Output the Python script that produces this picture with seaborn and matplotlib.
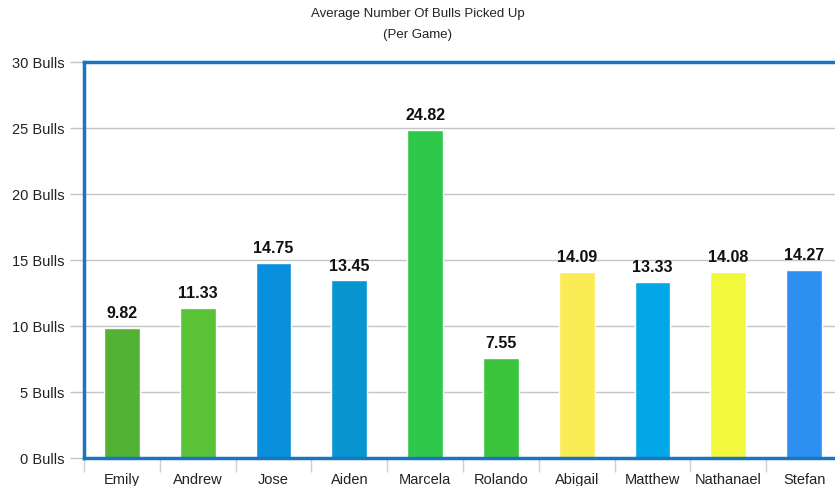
import matplotlib
matplotlib.use("Agg")
import matplotlib.pyplot as plt
import seaborn as sns
import pandas as pd
from matplotlib.ticker import FixedLocator

players = ["Emily", "Andrew", "Jose", "Aiden", "Marcela", "Rolando",
           "Abigail", "Matthew", "Nathanael", "Stefan"]
averages = [9.82, 11.33, 14.75, 13.45, 24.82, 7.55, 14.09, 13.33, 14.08, 14.27]
bar_colors = ["#52b234", "#5ac236", "#0990dc", "#0796d0", "#2ec94a",
              "#3cc43c", "#fbeb55", "#01a7e6", "#f2f93c", "#2d90f0"]
y_ticks = [0, 5, 10, 15, 20, 25, 30]
y_tick_labels = [f"{v} Bulls" for v in y_ticks]

sns.set_theme(style="white")
plt.rcParams["font.family"] = ["Liberation Sans", "DejaVu Sans"]

df = pd.DataFrame({"player": players, "avg": averages})

fig = plt.figure(figsize=(8.35, 4.86), dpi=100)
ax = fig.add_axes([84 / 835, 1 - 458 / 486, (842 - 84) / 835, (458 - 62) / 486])

sns.barplot(data=df, x="player", y="avg", hue="player", palette=bar_colors,
            legend=False, width=0.47, ax=ax, saturation=1)

ax.set_xlim(-0.5, len(players) - 0.5)
ax.set_ylim(0, 30)
ax.set_yticks(y_ticks)
ax.set_yticklabels(y_tick_labels, fontsize=10.5, color="#222222")
ax.yaxis.grid(True, color="#c4c4c4", linewidth=1)
ax.set_axisbelow(True)
ax.tick_params(axis="y", length=10, width=1, color="#c4c4c4", pad=4, left=True)

ax.set_xlabel("")
ax.set_ylabel("")
ax.tick_params(axis="x", which="major", length=0, pad=11, labelsize=10.5,
               labelcolor="#222222")
ax.xaxis.set_minor_locator(FixedLocator([i - 0.5 for i in range(len(players) + 1)]))
ax.tick_params(axis="x", which="minor", length=10, width=1, color="#c8d0da",
               bottom=True)

for sp in ax.spines.values():
    sp.set_visible(True)
    sp.set_color("#1a74c0")
    sp.set_linewidth(2.5)

for i, v in enumerate(averages):
    ax.annotate(f"{v:.2f}", xy=(i, v), xytext=(0, 5), textcoords="offset points",
                ha="center", va="bottom", fontsize=11.5, fontweight="bold",
                color="#111111")

fig.text(0.5, 1 - 14 / 486, "Average Number Of Bulls Picked Up", ha="center",
         va="center", fontsize=9.5, color="#222222")
fig.text(0.5, 1 - 35 / 486, "(Per Game)", ha="center", va="center",
         fontsize=9.5, color="#222222")

fig.savefig("out.png", dpi=100)
